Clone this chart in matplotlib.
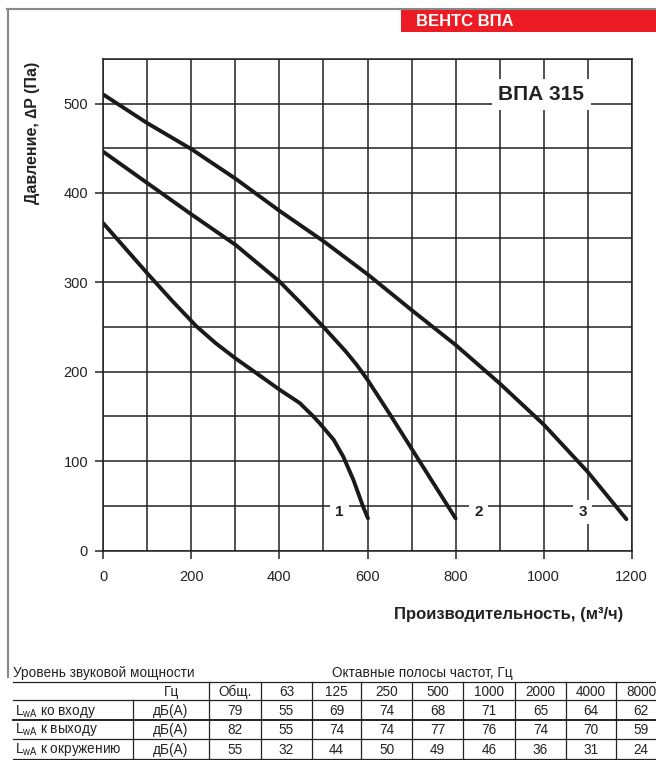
import matplotlib.pyplot as plt
from matplotlib.lines import Line2D
from matplotlib.patches import Rectangle

plt.rcParams["font.family"] = ["Liberation Sans", "DejaVu Sans"]
plt.rcParams["mathtext.fontset"] = "custom"
plt.rcParams["mathtext.rm"] = "Liberation Sans"

# fan curves (flow m3/h, pressure Pa)
flow_1 = [0, 50, 100, 155, 211, 255, 300, 343, 400, 446, 475, 492, 523, 545, 568, 590, 601]
pres_1 = [366, 338, 310, 280, 251, 232, 215, 200, 180, 165, 151, 142, 124, 105, 79, 49, 36]

flow_2 = [0, 100, 200, 300, 400, 450, 500, 550, 575, 600, 650, 700, 750, 800]
pres_2 = [446, 411, 376, 342, 301, 276, 250, 223, 208, 191, 153, 114, 75, 36]

flow_3 = [0, 100, 200, 300, 400, 500, 600, 700, 800, 900, 1000, 1100, 1188]
pres_3 = [510, 478, 449, 416, 380, 346, 309, 269, 230, 187, 141, 88, 35]

curve_labels = ["1", "2", "3"]
label_flow = [536, 852, 1089]
label_pres = [43, 43, 43]

# sound power table
bands = ["Общ.", "63", "125", "250", "500", "1000", "2000", "4000", "8000"]
row_names = ["ко входу", "к выходу", "к окружению"]
row_units = ["дБ(А)", "дБ(А)", "дБ(А)"]
row_values = [
    [79, 55, 69, 74, 68, 71, 65, 64, 62],
    [82, 55, 74, 74, 77, 76, 74, 70, 59],
    [55, 32, 44, 50, 49, 46, 36, 31, 24],
]

W, H = 656, 760
fig = plt.figure(figsize=(W / 100, H / 100), dpi=100)

# chart axes placed in pixel terms
x0, x1, y0, y1 = 103.3, 631.7, 550.5, 58.8
ax = fig.add_axes([x0 / W, 1 - y0 / H, (x1 - x0) / W, (y0 - y1) / H])
ax.set_xlim(0, 1200)
ax.set_ylim(0, 550)
ax.set_xticks(range(0, 1201, 200))
ax.set_xticks(range(0, 1201, 100), minor=True)
ax.set_yticks(range(0, 501, 100))
ax.set_yticks(range(0, 551, 50), minor=True)
ax.grid(True, which="both", color="#222222", linewidth=1.1)
ax.set_axisbelow(True)
ax.tick_params(which="major", direction="out", length=6, width=1.1, color="#222222",
               labelsize=10.5, labelcolor="#222222")
ax.tick_params(axis="x", which="major", pad=8)
ax.tick_params(axis="y", which="major", pad=5)
ax.tick_params(which="minor", length=0)
for s in ax.spines.values():
    s.set_color("#222222")
    s.set_linewidth(1.1)

for fx, py in [(flow_1, pres_1), (flow_2, pres_2), (flow_3, pres_3)]:
    ax.plot(fx, py, color="#1a1a1a", linewidth=2.8, solid_capstyle="round",
            solid_joinstyle="round", zorder=4)

for lab, fx, py in zip(curve_labels, label_flow, label_pres):
    ax.text(fx, py, lab, ha="center", va="center", fontsize=11, fontweight="bold",
            color="#222222", zorder=5,
            bbox=dict(facecolor="white", edgecolor="none", boxstyle="square,pad=0.35"))

ax.text(995, 510, "ВПА 315", ha="center", va="center", fontsize=15, fontweight="bold",
        color="#222222", zorder=5,
        bbox=dict(facecolor="white", edgecolor="none", boxstyle="square,pad=0.3"))

fig.text(33 / W, 1 - 133 / H, "Давление, ∆P (Па)", rotation=90, ha="center", va="center",
         fontsize=11.5, fontweight="bold", color="#222222")
fig.text(509 / W, 1 - 615 / H, "Производительность, (м³/ч)", ha="center", va="center",
         fontsize=12, fontweight="bold", color="#222222")

# overlay in pixel coordinates for frame, header and table
ov = fig.add_axes([0, 0, 1, 1], zorder=-1)
ov.set_xlim(0, W)
ov.set_ylim(H, 0)
ov.axis("off")
ov.patch.set_alpha(0)

ov.add_line(Line2D([7, W], [9, 9], color="#888888", linewidth=1.5))
ov.add_line(Line2D([8, 8], [9, 677], color="#888888", linewidth=1.5))
ov.add_patch(Rectangle((401, 9.5), W - 401, 22, facecolor="#ED1C24", edgecolor="none"))
ov.text(416, 21, "ВЕНТС ВПА", ha="left", va="center", fontsize=12, fontweight="bold",
        color="white")

tfs = 9.8
ov.text(13, 673, "Уровень звуковой мощности", ha="left", va="center", fontsize=tfs,
        color="#222222")
ov.text(422, 673, "Октавные полосы частот, Гц", ha="center", va="center", fontsize=tfs,
        color="#222222")

col_edges = [209, 261, 312, 361, 412, 463, 515, 566, 616, 666]
row_lines = [682, 700, 720, 739, 759]
for i, yl in enumerate(row_lines):
    ov.add_line(Line2D([13, W], [yl, yl], color="#222222",
                       linewidth=1.4 if i == 2 else 0.9))
for xe in col_edges[:-1]:
    ov.add_line(Line2D([xe, xe], [682, 760], color="#222222", linewidth=0.9))
ov.add_line(Line2D([133, 133], [700, 760], color="#222222", linewidth=0.9))

ov.text(172, 692, "Гц", ha="center", va="center", fontsize=tfs, color="#222222")
for j, b in enumerate(bands):
    cx = (col_edges[j] + col_edges[j + 1]) / 2
    ov.text(cx, 692, b, ha="center", va="center", fontsize=tfs, color="#222222")

row_y = [711, 730, 750]
for name, unit, vals, ry in zip(row_names, row_units, row_values, row_y):
    ov.text(15, ry, r"L$_{\mathrm{wA}}$ " + name, ha="left", va="center", fontsize=tfs,
            color="#222222")
    ov.text(171, ry, unit, ha="center", va="center", fontsize=tfs, color="#222222")
    for j, v in enumerate(vals):
        cx = (col_edges[j] + col_edges[j + 1]) / 2
        ov.text(cx, ry, str(v), ha="center", va="center", fontsize=tfs, color="#222222")

fig.savefig("out.png", dpi=100)
